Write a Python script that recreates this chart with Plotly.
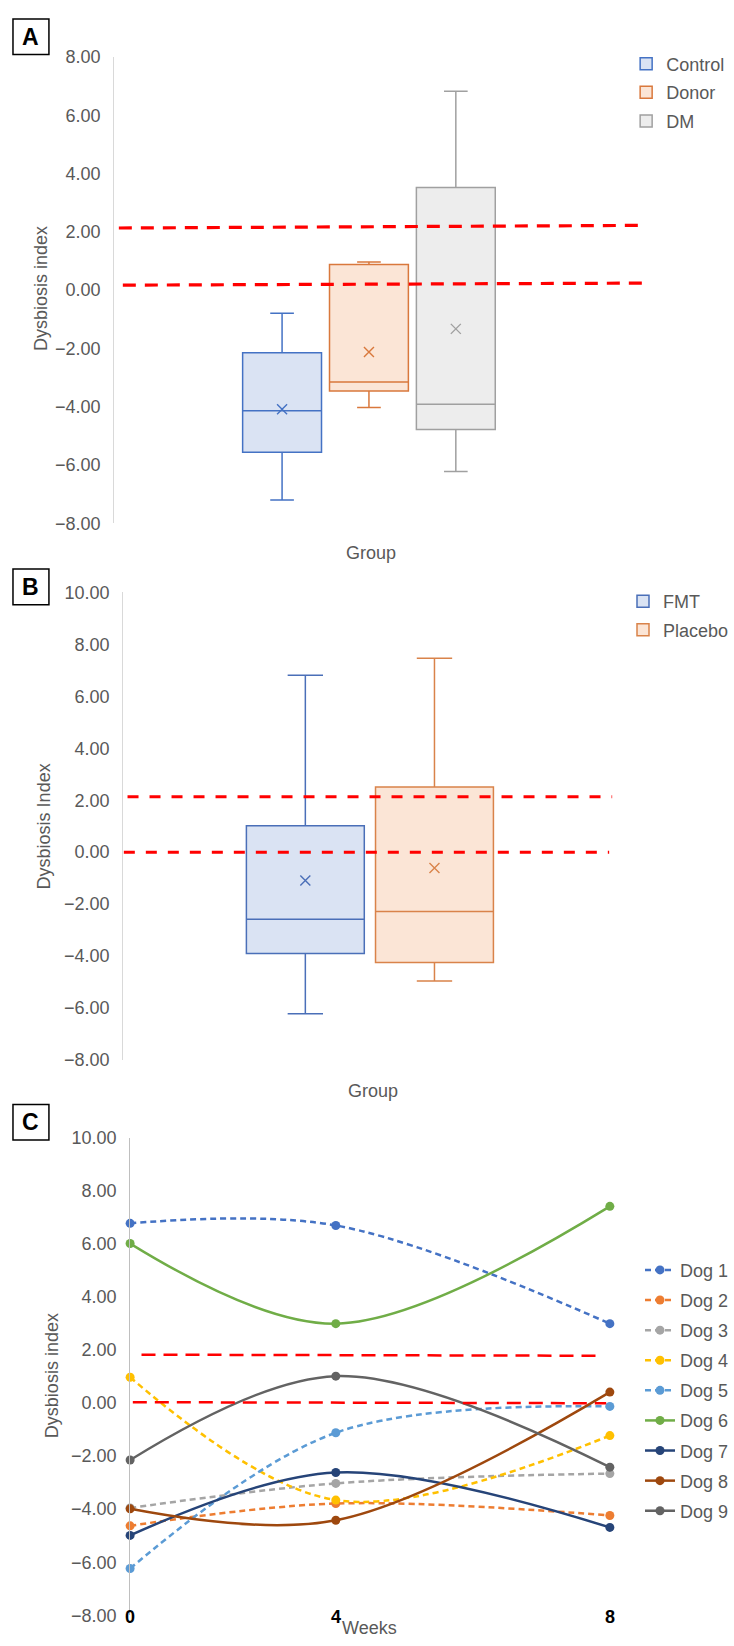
import plotly.graph_objects as go

W, H = 734, 1646

# ---- Panel A: dysbiosis index by group (box summaries) ----
groups_a = ["Control", "Donor", "DM"]
a_min = [-7.20, -4.03, -6.22]
a_q1 = [-5.56, -3.46, -4.78]
a_median = [-4.14, -3.15, -3.92]
a_q3 = [-2.15, 0.88, 3.52]
a_max = [-0.79, 0.96, 6.82]
a_mean = [-4.09, -2.12, -1.33]
a_ref_upper = [2.13, 2.22]
a_ref_lower = [0.17, 0.24]

# ---- Panel B: FMT vs placebo ----
groups_b = ["FMT", "Placebo"]
b_min = [-6.22, -4.96]
b_q1 = [-3.90, -4.25]
b_median = [-2.58, -2.28]
b_q3 = [1.02, 2.51]
b_max = [6.81, 7.47]
b_mean = [-1.09, -0.61]
b_ref_upper = [2.13, 2.13]
b_ref_lower = [0.0, 0.0]

# ---- Panel C: individual dogs over time ----
week_labels = ["0", "4", "8"]
sample_week = [0, 3.43, 8]
dog_names = ["Dog 1", "Dog 2", "Dog 3", "Dog 4", "Dog 5",
             "Dog 6", "Dog 7", "Dog 8", "Dog 9"]
dog_1 = [6.77, 6.69, 2.99]
dog_2 = [-4.63, -3.79, -4.24]
dog_3 = [-3.96, -3.03, -2.66]
dog_4 = [0.97, -3.66, -1.23]
dog_5 = [-6.24, -1.12, -0.13]
dog_6 = [6.01, 2.99, 7.41]
dog_7 = [-4.99, -2.62, -4.69]
dog_8 = [-3.99, -4.42, 0.41]
dog_9 = [-2.15, 1.01, -2.42]
dog_series = [dog_1, dog_2, dog_3, dog_4, dog_5, dog_6, dog_7, dog_8, dog_9]
c_ref_upper = [1.82, 1.78]
c_ref_lower = [0.03, -0.01]

FONT = "Liberation Sans, Arial, sans-serif"
GREY = "#595959"


def px(x):
    return x / W


def py(y):
    return 1 - y / H


box_line = {"Control": "#4472C4", "Donor": "#D9783C", "DM": "#A0A0A0",
            "FMT": "#4A6FB8", "Placebo": "#D9834A"}
box_fill = {"Control": "#DAE3F3", "Donor": "#FBE5D6", "DM": "#EDEDED",
            "FMT": "#DAE3F3", "Placebo": "#FBE5D6"}

dog_colors = ["#4472C4", "#ED7D31", "#A5A5A5", "#FFC000", "#5B9BD5",
              "#70AD47", "#264478", "#9E480E", "#636363"]
dog_dash = ["6px,4px"] * 5 + ["solid"] * 4

fig = go.Figure()


def add_boxes(names, mn, q1, med, q3, mx, mean, xa, ya, leg, width):
    for i, g in enumerate(names):
        fig.add_trace(go.Box(
            x=[g], q1=[q1[i]], median=[med[i]], q3=[q3[i]],
            lowerfence=[mn[i]], upperfence=[mx[i]], name=g,
            fillcolor=box_fill[g], line=dict(color=box_line[g], width=1.5),
            width=width, whiskerwidth=0.3, boxpoints=False,
            xaxis=xa, yaxis=ya, legend=leg, legendgroup=g,
        ))
        fig.add_trace(go.Scatter(
            x=[g], y=[mean[i]], mode="markers", showlegend=False,
            marker=dict(symbol="x-thin", size=10,
                        line=dict(width=1.4, color=box_line[g])),
            xaxis=xa, yaxis=ya, legendgroup=g, hoverinfo="skip",
        ))


add_boxes(groups_a, a_min, a_q1, a_median, a_q3, a_max, a_mean,
          "x", "y", "legend", 0.908)
add_boxes(groups_b, b_min, b_q1, b_median, b_q3, b_max, b_mean,
          "x2", "y2", "legend2", 0.913)

for i, name in enumerate(dog_names):
    fig.add_trace(go.Scatter(
        x=sample_week, y=dog_series[i], name=name, mode="lines+markers",
        line=dict(color=dog_colors[i], width=2.5, shape="spline",
                  dash=dog_dash[i]),
        marker=dict(size=9, color=dog_colors[i]),
        cliponaxis=False, xaxis="x3", yaxis="y3", legend="legend3",
        legendgroup=name,
    ))

yaxis_common = dict(
    showgrid=False, zeroline=False, showline=True, linewidth=1,
    tickformat=".2f", ticks="", ticklabelstandoff=9,
    tickfont=dict(family=FONT, size=18, color=GREY),
)
xaxis_common = dict(showgrid=False, zeroline=False, showline=False,
                    showticklabels=False, ticks="")

legend_common = dict(
    xanchor="left", yanchor="top", bgcolor="rgba(0,0,0,0)",
    font=dict(family=FONT, size=18, color=GREY), itemwidth=30,
    itemclick=False, itemdoubleclick=False,
)

shapes = []
red = dict(color="#FF0000", width=3)
# Panel A reference band
shapes.append(dict(type="line", xref="paper", yref="y",
                   x0=px(119), x1=px(640), y0=a_ref_upper[0], y1=a_ref_upper[1],
                   line=dict(red, dash="13px,9px", width=3.2)))
shapes.append(dict(type="line", xref="paper", yref="y",
                   x0=px(123), x1=px(643), y0=a_ref_lower[0], y1=a_ref_lower[1],
                   line=dict(red, dash="13px,9px", width=3.2)))
# Panel B reference band
shapes.append(dict(type="line", xref="paper", yref="y2",
                   x0=px(127.7), x1=px(613), y0=b_ref_upper[0], y1=b_ref_upper[1],
                   line=dict(red, dash="11px,11px", width=3)))
shapes.append(dict(type="line", xref="paper", yref="y2",
                   x0=px(124), x1=px(610), y0=b_ref_lower[0], y1=b_ref_lower[1],
                   line=dict(red, dash="11px,11px", width=3)))
# Panel C reference band
shapes.append(dict(type="line", xref="paper", yref="y3",
                   x0=px(141.7), x1=px(604), y0=c_ref_upper[0], y1=c_ref_upper[1],
                   line=dict(red, dash="14px,8px", width=2.5)))
shapes.append(dict(type="line", xref="paper", yref="y3",
                   x0=px(133), x1=px(607), y0=c_ref_lower[0], y1=c_ref_lower[1],
                   line=dict(red, dash="14px,8px", width=2.5)))

# panel letter boxes
annotations = []
for letter, top in [("A", 9), ("B", 566), ("C", 1108)]:
    shapes.append(dict(type="rect", xref="paper", yref="paper",
                       x0=px(13), x1=px(49), y0=py(top + 36), y1=py(top),
                       line=dict(color="black", width=1.5), fillcolor="white"))
    annotations.append(dict(text=f"<b>{letter}</b>", xref="paper", yref="paper",
                            x=px(31), y=py(top + 18), showarrow=False,
                            xanchor="center", yanchor="middle",
                            font=dict(family=FONT, size=23, color="black")))


def label(text, x, y, angle=0, size=18, color=GREY):
    annotations.append(dict(text=text, xref="paper", yref="paper",
                            x=px(x), y=py(y), showarrow=False, textangle=angle,
                            xanchor="center", yanchor="middle",
                            font=dict(family=FONT, size=size, color=color)))


label("Dysbiosis index", 40.5, 282, angle=-90)
label("Group", 372, 550)
label("Dysbiosis Index", 44.5, 826, angle=-90)
label("Group", 374, 1094)
label("Dysbiosis index", 52, 1382, angle=-90)
label("Weeks", 370, 1638)

for i, wk in enumerate(week_labels):
    annotations.append(dict(text=f"<b>{wk}</b>", xref="x3", yref="paper",
                            x=sample_week[i], y=py(1627), showarrow=False,
                            xanchor="center", yanchor="middle",
                            font=dict(family=FONT, size=18, color="black")))

fig.update_layout(
    width=W, height=H, margin=dict(l=0, r=0, t=0, b=0),
    paper_bgcolor="white", plot_bgcolor="white",
    showlegend=True, boxmode="overlay",
    xaxis=dict(xaxis_common, domain=[px(114.3), px(640)], anchor="y",
               type="category", categoryarray=groups_a,
               range=[-1.933, 4.110]),
    yaxis=dict(yaxis_common, domain=[py(519.6), py(47.5)], anchor="x",
               range=[-8, 8], tickvals=list(range(-8, 9, 2)),
               linecolor="#D9D9D9"),
    xaxis2=dict(xaxis_common, domain=[px(123.3), px(613)], anchor="y2",
                type="category", categoryarray=groups_b,
                range=[-1.411, 2.376]),
    yaxis2=dict(yaxis_common, domain=[py(1062.9), py(589.6)], anchor="x2",
                range=[-8, 10], tickvals=list(range(-8, 11, 2)),
                linecolor="#D9D9D9"),
    xaxis3=dict(xaxis_common, domain=[px(130.3), px(628.7)], anchor="y3",
                range=[0, 8.3]),
    yaxis3=dict(yaxis_common, domain=[py(1625), py(1141.5)], anchor="x3",
                range=[-8, 10], tickvals=list(range(-8, 11, 2)),
                linecolor="#BFBFBF"),
    legend=dict(legend_common, x=px(627), y=py(36), tracegroupgap=2.2),
    legend2=dict(legend_common, x=px(624), y=py(580), tracegroupgap=2.3),
    legend3=dict(legend_common, x=px(641), y=py(1257), tracegroupgap=3.7),
    shapes=shapes, annotations=annotations,
)

fig.write_html("out.html")
